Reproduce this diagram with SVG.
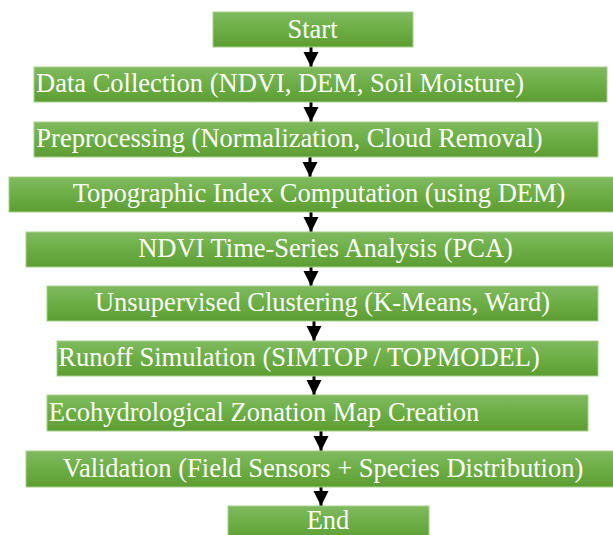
<svg xmlns="http://www.w3.org/2000/svg" width="613" height="535" viewBox="0 0 613 535">
<defs>
<linearGradient id="g" x1="0" y1="0" x2="0" y2="1">
<stop offset="0" stop-color="#80ba60"/>
<stop offset="0.5" stop-color="#6cae45"/>
<stop offset="1" stop-color="#5c9c33"/>
</linearGradient>
<marker id="ah" viewBox="0 -8 16 16" refX="15" refY="0" markerWidth="16" markerHeight="16" markerUnits="userSpaceOnUse" orient="auto">
<path d="M0,-7.5 L15,0 L0,7.5 z" fill="#000"/>
</marker>
<style>
.box{fill:url(#g);stroke:#a6d08a;stroke-width:1}
.lbl{font-family:"Liberation Serif","Times New Roman",serif;font-size:26.5px;fill:#fff;text-anchor:middle}
.arr{stroke:#000;stroke-width:3;fill:none;marker-end:url(#ah)}
</style>
</defs>
<g id="connectors">
<line class="arr" x1="311" y1="47" x2="311" y2="67"/>
<line class="arr" x1="311" y1="102" x2="311" y2="122"/>
<line class="arr" x1="310" y1="157" x2="310" y2="177"/>
<line class="arr" x1="311" y1="212" x2="311" y2="232"/>
<line class="arr" x1="311" y1="267" x2="311" y2="286"/>
<line class="arr" x1="314" y1="321" x2="314" y2="341"/>
<line class="arr" x1="314" y1="376" x2="314" y2="395"/>
<line class="arr" x1="321" y1="431" x2="321" y2="451"/>
<line class="arr" x1="321" y1="487" x2="321" y2="506"/>
</g>
<g id="start"><rect class="box" x="213" y="12" width="200" height="35"/><text class="lbl" x="312.5" y="38">Start</text></g>
<g id="data"><rect class="box" x="34" y="67" width="573" height="35"/><text class="lbl" x="280" y="92">Data Collection (NDVI, DEM, Soil Moisture)</text></g>
<g id="preprocessing"><rect class="box" x="34" y="122" width="564" height="35"/><text class="lbl" x="289.5" y="147">Preprocessing (Normalization, Cloud Removal)</text></g>
<g id="topographic"><rect class="box" x="9" y="177" width="606" height="35"/><text class="lbl" x="319" y="202">Topographic Index Computation (using DEM)</text></g>
<g id="ndvi"><rect class="box" x="26" y="232" width="589" height="35"/><text class="lbl" x="325.5" y="257">NDVI Time-Series Analysis (PCA)</text></g>
<g id="clustering"><rect class="box" x="47" y="286" width="551" height="35"/><text class="lbl" x="322.5" y="311">Unsupervised Clustering (K-Means, Ward)</text></g>
<g id="runoff"><rect class="box" x="57" y="341" width="541" height="35"/><text class="lbl" x="299" y="366">Runoff Simulation (SIMTOP / TOPMODEL)</text></g>
<g id="zonation"><rect class="box" x="47" y="395" width="541" height="36"/><text class="lbl" x="264" y="421">Ecohydrological Zonation Map Creation</text></g>
<g id="validation"><rect class="box" x="26" y="451" width="589" height="36"/><text class="lbl" x="323" y="477">Validation (Field Sensors + Species Distribution)</text></g>
<g id="end"><rect class="box" x="228" y="506" width="201" height="35"/><text class="lbl" x="328" y="529">End</text></g>
</svg>
